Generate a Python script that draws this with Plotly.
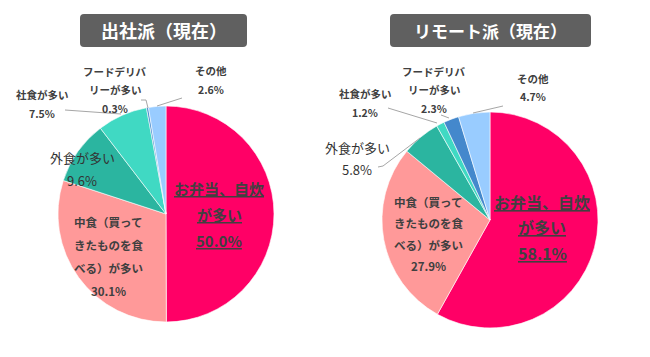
import plotly.graph_objects as go

# Page body has an 8px margin, so the figure is drawn 8px in from the window edge.
OFF = 8
W, H = 650 - OFF, 357 - OFF

categories = ["お弁当、自炊が多い", "中食（買ってきたものを食べる）が多い", "外食が多い",
              "社食が多い", "フードデリバリーが多い", "その他"]
colors = ["#FF0066", "#FF9999", "#2BB5A0", "#40D9C3", "#4488CC", "#99CCFF"]
office_values = [50.0, 30.1, 9.6, 7.5, 0.3, 2.6]
remote_values = [58.1, 27.9, 5.8, 1.2, 2.3, 4.7]
titles = ["出社派（現在）", "リモート派（現在）"]

FONT = "Noto Sans CJK JP"
TXT = "#404040"


def px(x):
    return (x - OFF) / W


def py(y):
    return 1 - (y - OFF) / H


fig = go.Figure()

domains = [
    dict(x=[px(58), px(274)], y=[py(322), py(106)]),
    dict(x=[px(382), px(598)], y=[py(328), py(112)]),
]
for vals, dom in zip([office_values, remote_values], domains):
    fig.add_trace(go.Pie(
        labels=categories, values=vals, sort=False, direction="clockwise",
        rotation=0, marker=dict(colors=colors, line=dict(color="white", width=0.6)),
        textinfo="none", hoverinfo="label+value", domain=dom, showlegend=False,
    ))

annotations = []
shapes = []


def label(lines, cx, ys, size, bold=True, underline=False, color=TXT):
    for t, y in zip(lines, ys):
        s = f"<b>{t}</b>" if bold else t
        if underline:
            s = f"<u>{s}</u>"
        annotations.append(dict(
            text=s, x=px(cx), y=py(y), xref="paper", yref="paper",
            xanchor="center", yanchor="middle", showarrow=False,
            font=dict(family=FONT, size=size, color=color)))


def pct(v):
    return f"{v:.1f}%"


def line(pts):
    path = "M " + " L ".join(f"{px(x)},{py(y)}" for x, y in pts)
    shapes.append(dict(type="path", path=path, xref="paper", yref="paper",
                       line=dict(color="#A6A6A6", width=1)))


def title_box(x0, x1, y0, y1, text, size):
    r = 4
    rx, ry = r / W, r / H
    X0, X1, Y0, Y1 = px(x0), px(x1), py(y1), py(y0)
    path = (f"M {X0+rx},{Y0} L {X1-rx},{Y0} Q {X1},{Y0} {X1},{Y0+ry} "
            f"L {X1},{Y1-ry} Q {X1},{Y1} {X1-rx},{Y1} L {X0+rx},{Y1} "
            f"Q {X0},{Y1} {X0},{Y1-ry} L {X0},{Y0+ry} Q {X0},{Y0} {X0+rx},{Y0} Z")
    shapes.append(dict(type="path", path=path, xref="paper", yref="paper",
                       fillcolor="#606060", line=dict(width=0), layer="below"))
    annotations.append(dict(text=f"<b>{text}</b>", x=px((x0 + x1) / 2), y=py((y0 + y1) / 2),
                            xref="paper", yref="paper", xanchor="center", yanchor="middle",
                            showarrow=False, font=dict(family=FONT, size=size, color="white")))


# ---- left chart (出社派) ----
title_box(80, 247, 14, 47, titles[0], 18)
v = office_values
label(["お弁当、自炊", "が多い", pct(v[0])], 219, [188, 214, 240], 15, underline=True)
label(["中食（買って", "きたものを食", "べる）が多い", pct(v[1])], 108, [222, 245, 268, 291], 11.5)
label(["外食が多い", pct(v[2])], 82, [157, 180], 13, bold=False, color="#333333")
label(["社食が多い", pct(v[3])], 42, [95, 113], 10.5)
label(["フードデリバ", "リーが多い", pct(v[4])], 115, [72, 90, 108], 10.5)
label(["その他", pct(v[5])], 211, [71, 89], 10.5)
line([(65, 110), (121, 114)])
line([(141, 100), (146, 100), (148, 108)])
line([(182, 98), (157, 106)])

# ---- right chart (リモート派) ----
title_box(390, 591, 14, 47, titles[1], 17)
v = remote_values
label(["お弁当、自炊", "が多い", pct(v[0])], 542, [202, 227, 253], 16, underline=True)
label(["中食（買って", "きたものを食", "べる）が多い", pct(v[1])], 428, [202, 223, 245, 266], 11.5)
label(["外食が多い", pct(v[2])], 357, [147, 169], 13, bold=False, color="#333333")
label(["社食が多い", pct(v[3])], 365, [94, 112], 10.5)
label(["フードデリバ", "リーが多い", pct(v[4])], 434, [72, 90, 108], 10.5)
label(["その他", pct(v[5])], 533, [78, 97], 10.5)
line([(388, 108), (437, 123)])
line([(441, 115), (449, 118)])
line([(503, 106), (473, 113)])
line([(378, 167), (383, 166), (420, 138)])

fig.update_layout(
    width=W, height=H, margin=dict(l=0, r=0, t=0, b=0),
    paper_bgcolor="white", plot_bgcolor="white",
    annotations=annotations, shapes=shapes,
    font=dict(family=FONT),
)

fig.write_html("out.html")
